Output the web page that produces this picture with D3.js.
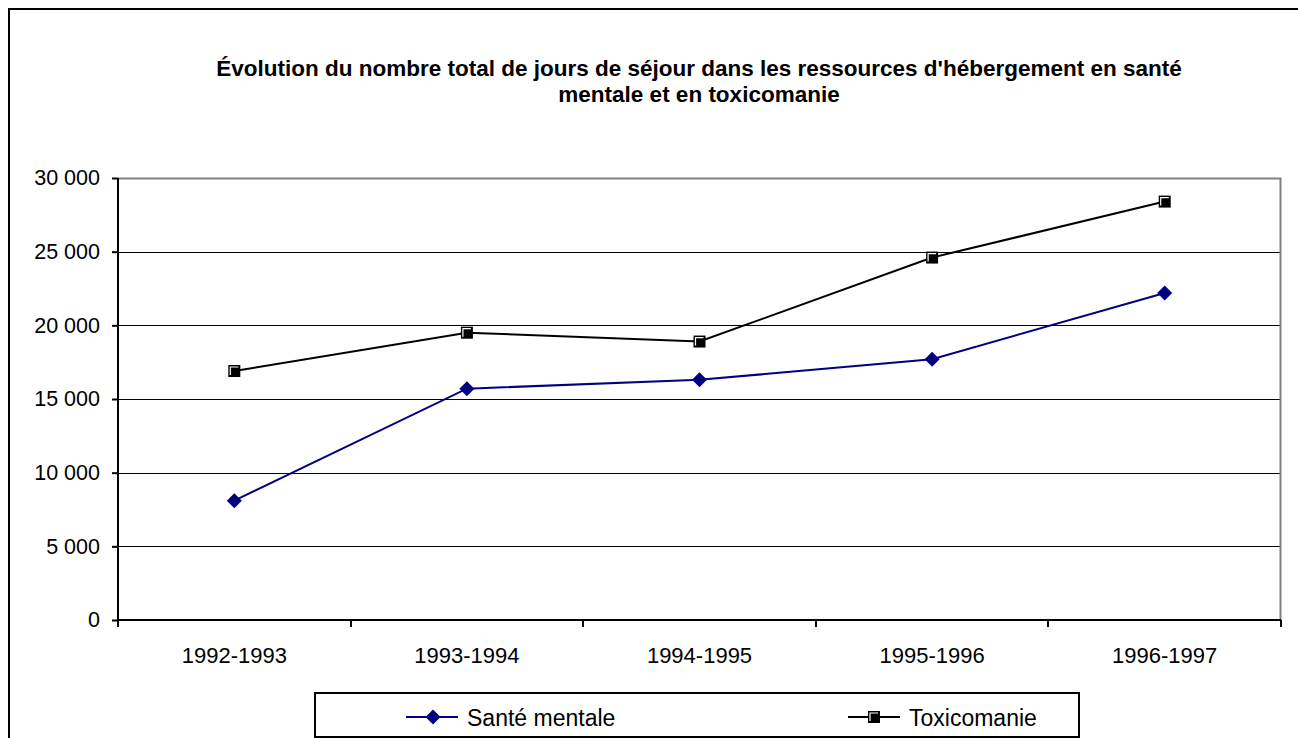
<!DOCTYPE html>
<html>
<head>
<meta charset="utf-8">
<script src="https://cdn.jsdelivr.net/npm/d3@7"></script>
<style>
  html, body { margin: 0; padding: 0; background: #fff; }
  svg { display: block; font-family: "Liberation Sans", Arial, sans-serif; }
</style>
</head>
<body>
<svg id="chart" width="1298" height="738"></svg>
<script>
// Années financières (catégories)
const periods = ["1992-1993", "1993-1994", "1994-1995", "1995-1996", "1996-1997"];
// Nombre total de jours de séjour
const santeMentale = [8100, 15700, 16300, 17700, 22200];
const toxicomanie = [16900, 19500, 18900, 24600, 28400];
const yTicks = [0, 5000, 10000, 15000, 20000, 25000, 30000];
const seriesNames = ["Santé mentale", "Toxicomanie"];
const titleLines = [
  "Évolution du nombre total de jours de séjour dans les ressources d'hébergement en santé",
  "mentale et en toxicomanie"
];

const svg = d3.select("#chart");
const W = 1298, H = 738;
const plot = { left: 118, right: 1281, top: 178, bottom: 620 };

// Cadre extérieur
svg.append("rect")
  .attr("x", 9).attr("y", 9)
  .attr("width", W + 10).attr("height", H + 10)
  .attr("fill", "none").attr("stroke", "#000").attr("stroke-width", 2);

// Titre
svg.append("g").selectAll("text").data(titleLines).join("text")
  .attr("x", 699).attr("y", (d, i) => 76 + i * 26)
  .attr("text-anchor", "middle")
  .attr("font-weight", "bold").attr("font-size", 22.5)
  .text(d => d);

const x = d3.scaleBand().domain(periods).range([plot.left, plot.right]);
const y = d3.scaleLinear().domain([0, 30000]).range([plot.bottom, plot.top]);

const fmt = v => d3.format(",")(v).replace(/,/g, " ");

// Quadrillage horizontal
svg.append("g").selectAll("line").data(yTicks.filter(t => t > 0 && t < 30000)).join("line")
  .attr("x1", plot.left).attr("x2", plot.right)
  .attr("y1", d => Math.round(y(d)) + 0.5).attr("y2", d => Math.round(y(d)) + 0.5)
  .attr("stroke", "#000").attr("stroke-width", 1);

// Bordure de la zone de traçage (haut et droite en gris)
svg.append("path")
  .attr("d", `M${plot.left},${plot.top + 0.5}H${plot.right - 0.5}V${plot.bottom}`)
  .attr("fill", "none").attr("stroke", "#808080").attr("stroke-width", 2);

// Axe vertical
const yAxis = d3.axisLeft(y).tickValues(yTicks).tickFormat(fmt).tickSize(6).tickPadding(12);
const gy = svg.append("g").attr("transform", `translate(${plot.left},0)`).call(yAxis);
gy.select(".domain").attr("stroke-width", 2).attr("d", `M0,${plot.top}V${plot.bottom}`);
gy.selectAll(".tick line").attr("stroke-width", 2);
gy.selectAll(".tick text").attr("font-size", 21.5).attr("fill", "#000")
  .attr("font-family", "Liberation Sans, Arial, sans-serif");

// Axe horizontal (graduations entre les catégories)
const xAxis = d3.axisBottom(x).tickSize(0).tickPadding(27);
const gx = svg.append("g").attr("transform", `translate(0,${plot.bottom})`).call(xAxis);
gx.select(".domain").attr("stroke-width", 2).attr("d", `M${plot.left},0H${plot.right}`);
gx.selectAll(".tick text").attr("font-size", 22).attr("fill", "#000")
  .attr("font-family", "Liberation Sans, Arial, sans-serif");
const bounds = periods.map(p => x(p)).concat([x(periods[periods.length - 1]) + x.bandwidth()]);
gx.append("g").selectAll("line").data(bounds).join("line")
  .attr("x1", d => Math.round(d)).attr("x2", d => Math.round(d))
  .attr("y1", 0).attr("y2", 7)
  .attr("stroke", "#000").attr("stroke-width", 2);

const cx = p => x(p) + x.bandwidth() / 2;
const line = d3.line().x(d => cx(d.p)).y(d => y(d.v));

const navy = "#000080";

function diamond(g, px, py, r) {
  g.append("path")
    .attr("d", `M${px},${py - r}L${px + r},${py}L${px},${py + r}L${px - r},${py}Z`)
    .attr("fill", navy);
}
function square(g, px, py, s) {
  g.append("rect")
    .attr("x", px - s / 2).attr("y", py - s / 2)
    .attr("width", s).attr("height", s)
    .attr("fill", "#000");
  g.append("path")
    .attr("d", `M${px - s / 2 + 2},${py + s / 2 - 2}V${py - s / 2 + 2}H${px + s / 2 - 2}`)
    .attr("fill", "none").attr("stroke", "#fff").attr("stroke-width", 1.2);
}

// Série Toxicomanie
const toxData = periods.map((p, i) => ({ p, v: toxicomanie[i] }));
svg.append("path").datum(toxData).attr("d", line)
  .attr("fill", "none").attr("stroke", "#000").attr("stroke-width", 2);
const gTox = svg.append("g");
toxData.forEach(d => square(gTox, cx(d.p), y(d.v), 12));

// Série Santé mentale
const smData = periods.map((p, i) => ({ p, v: santeMentale[i] }));
svg.append("path").datum(smData).attr("d", line)
  .attr("fill", "none").attr("stroke", navy).attr("stroke-width", 2);
const gSm = svg.append("g");
smData.forEach(d => diamond(gSm, cx(d.p), y(d.v), 7.5));

// Légende
const lg = svg.append("g");
lg.append("rect").attr("x", 315).attr("y", 693).attr("width", 764).attr("height", 44)
  .attr("fill", "#fff").attr("stroke", "#000").attr("stroke-width", 2);
const legendItems = [
  { name: seriesNames[0], x0: 406, color: navy, mark: "d" },
  { name: seriesNames[1], x0: 848, color: "#000", mark: "s" }
];
legendItems.forEach(it => {
  const ly = 717;
  lg.append("line").attr("x1", it.x0).attr("x2", it.x0 + 52)
    .attr("y1", ly).attr("y2", ly).attr("stroke", it.color).attr("stroke-width", 2);
  if (it.mark === "d") diamond(lg, it.x0 + 27, ly, 7.5);
  else square(lg, it.x0 + 26, ly, 12);
  lg.append("text").attr("x", it.x0 + 61).attr("y", ly + 9)
    .attr("font-size", 23).attr("fill", "#000").text(it.name);
});
</script>
</body>
</html>
